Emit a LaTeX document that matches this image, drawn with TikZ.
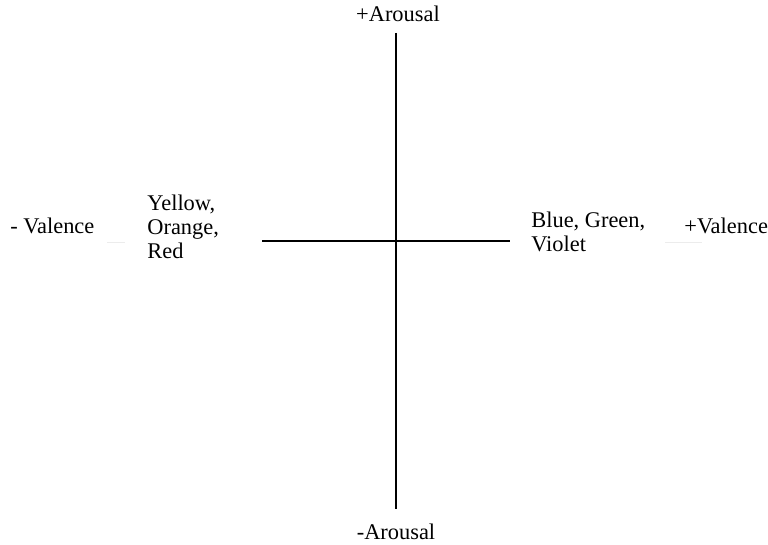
\documentclass[tikz,border=0pt]{standalone}
\usepackage{fontspec}
\setmainfont{Liberation Serif}
\usetikzlibrary{positioning}
\definecolor{axisInk}{RGB}{0,0,0}
\definecolor{ghostLine}{RGB}{236,236,236}

\begin{document}
\begin{tikzpicture}[
    x=0.5pt, y=-0.5pt,
    pole/.style={inner sep=0pt, font=\fontsize{11.2}{12}\selectfont},
    colours/.style={inner sep=0pt, align=left, font=\fontsize{11.2}{12}\selectfont},
    axis/.style={draw=axisInk, line width=1pt},
    ghost/.style={draw=ghostLine, line width=0.5pt}
]
    \useasboundingbox (0,0) rectangle (768,545);

    % axis ends
    \coordinate (up) at (396,33);
    \coordinate (down) at (396,509);
    \coordinate (west) at (262,241);
    \coordinate (east) at (510,241);

    \node[pole, anchor=base] (arUp) at (398,22) {+Arousal};
    \node[pole, anchor=base] (arDown) at (396,540) {-Arousal};
    \node[pole, anchor=base west] (valNeg) at (10,234) {- Valence};
    \node[pole, anchor=base west] (valPos) at (684,234) {+Valence};
    \node[colours, anchor=north west] (warm) at (147,195) {Yellow,\\Orange,\\Red};
    \node[colours, anchor=north west] (cool) at (531,212) {Blue, Green,\\Violet};

    \draw[axis] (up) -- (down);
    \draw[axis] (west) -- (east);

    % faint marks beside the valence labels
    \draw[ghost] (107,243) -- (125,243);
    \draw[ghost] (665,243) -- (702,243);
\end{tikzpicture}
\end{document}
